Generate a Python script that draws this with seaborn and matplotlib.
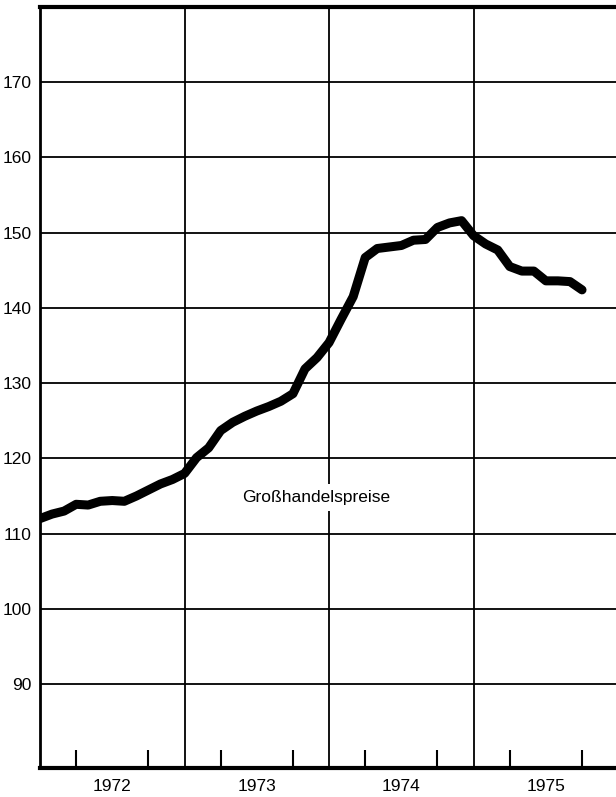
import pandas as pd
import matplotlib
matplotlib.use('Agg')
import matplotlib.pyplot as plt
import seaborn as sns

# Großhandelspreise, monatlich ab Januar 1972
start_year = 1972
preise = [112.0, 112.6, 113.0, 113.9, 113.8, 114.3, 114.4, 114.3, 115.0, 115.8, 116.6, 117.2,
          118.0, 120.1, 121.4, 123.7, 124.8, 125.6, 126.3, 126.9, 127.6, 128.6, 131.9, 133.4,
          135.4, 138.5, 141.5, 146.7, 147.9, 148.1, 148.3, 149.0, 149.1, 150.7, 151.3, 151.6,
          149.6, 148.5, 147.7, 145.5, 144.9, 144.9, 143.6, 143.6, 143.5, 142.4]
jahre = [1972, 1973, 1974, 1975]
y_ticks = [90, 100, 110, 120, 130, 140, 150, 160, 170]
label = "Großhandelspreise"

df = pd.DataFrame({'monat': range(len(preise)), 'wert': preise})
df['zeit'] = start_year + df['monat'] / 12

sns.set_style("white")
plt.rcParams['font.family'] = ['Liberation Sans', 'DejaVu Sans']

fig = plt.figure(figsize=(6.16, 7.97), dpi=100)
ax = fig.add_axes([40 / 616, 29 / 797, 576 / 616, 761 / 797])

# Gitter
for y in y_ticks:
    ax.axhline(y, color='black', lw=1.3, zorder=1)
for j in jahre[1:]:
    ax.axvline(j, color='black', lw=1.3, zorder=1)

sns.lineplot(data=df, x='zeit', y='wert', color='black', linewidth=6.5, ax=ax, zorder=3)
for line in ax.lines:
    line.set_solid_joinstyle('round')

ax.set_xlim(1972, 1975.985)
ax.set_ylim(78.85, 180)

ax.set_yticks(y_ticks)
ax.set_yticklabels([str(v) for v in y_ticks], fontsize=12.5, color='black')
ax.tick_params(axis='y', length=0, pad=6)

# Jahresbeschriftung in der Mitte, Quartalsstriche nach innen
ax.set_xticks([j + 0.5 for j in jahre])
ax.set_xticklabels([str(j) for j in jahre], fontsize=12.5, color='black')
ax.tick_params(axis='x', which='major', length=0, pad=8)
ax.set_xticks([j + q / 4 for j in jahre for q in (1, 2, 3)], minor=True)
ax.tick_params(axis='x', which='minor', bottom=True, direction='in', length=13,
               width=1.5, color='black')

ax.text(1973.40, 114.8, label, fontsize=12.5, va='center', ha='left', color='black',
        zorder=4, bbox=dict(facecolor='white', edgecolor='none', pad=4))

ax.set_xlabel('')
ax.set_ylabel('')
for side in ['left', 'bottom', 'top']:
    ax.spines[side].set_color('black')
ax.spines['left'].set_linewidth(2)
ax.spines['bottom'].set_linewidth(3)
ax.spines['top'].set_linewidth(3)
ax.spines['right'].set_visible(False)

fig.savefig('out.png', dpi=100)
